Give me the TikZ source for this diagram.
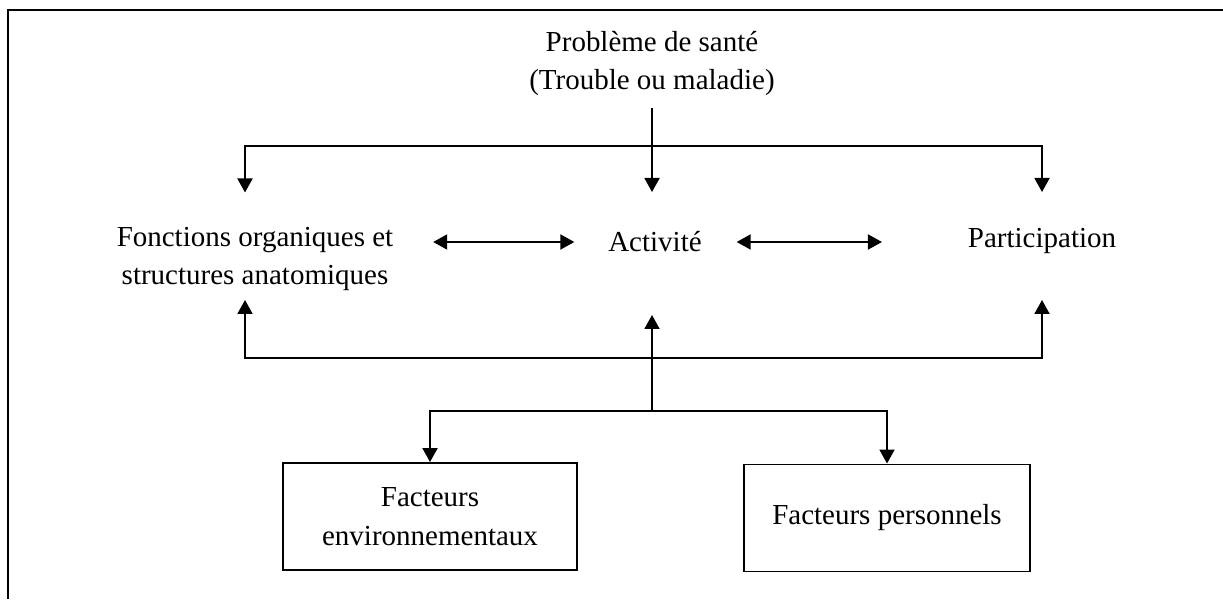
\documentclass[tikz,border=0pt]{standalone}
\usepackage{fontspec}
\setmainfont{Liberation Serif}
\usetikzlibrary{arrows.meta}
\begin{document}
\begin{tikzpicture}[>={Triangle[length=2.8mm,width=3mm]},line width=1.1pt,
  txt/.style={font=\fontsize{16.5}{22}\selectfont,align=center,inner sep=0pt},
  facteur/.style={txt,draw,minimum width=5.88cm,minimum height=2.14cm}]

\useasboundingbox (0,0) rectangle (24.46,11.98);
\draw (0.16,0)--(0.16,11.78)--(24.46,11.78);

\node[txt,inner ysep=2.2mm] (prob) at (13.04,10.71) {Problème de santé\\(Trouble ou maladie)};
\node[txt] (fonc) at ( 5.10,6.80) {Fonctions organiques et\\structures anatomiques};
\node[txt] (act)  at (13.10,7.14) {Activité};
\node[txt] (part) at (20.84,7.16) {Participation};
\node[facteur] (env) at ( 8.60,1.65) {Facteurs\\environnementaux};
\node[facteur,minimum width=5.72cm] (pers) at (17.74,1.62) {Facteurs personnels};

\coordinate (busT) at (13.04,9.06);
\coordinate (busB) at (13.04,4.82);
\coordinate (busF) at (13.04,3.76);
\coordinate (fT) at ( 4.90,8.13);
\coordinate (aT) at (13.04,8.14);
\coordinate (pT) at (20.84,8.14);
\coordinate (fB) at ( 4.90,5.98);
\coordinate (aB) at (13.04,5.68);
\coordinate (pB) at (20.84,5.98);

\draw[->] (prob.south)--(aT);
\draw[->] (busT)-|(fT);
\draw[->] (busT)-|(pT);

\draw[<->,shorten <=7.8mm,shorten >=6.6mm] (fonc.east|-act.west)--(act.west);
\draw[<->,shorten <=6.8mm,shorten >=17mm] (act.east)--(part.west|-act.east);

\draw[->] (busF)--(aB);
\draw[->] (busB)-|(fB);
\draw[->] (busB)-|(pB);
\draw[->] (busF)-|(env.north);
\draw[->] (busF)-|(pers.north);

\end{tikzpicture}
\end{document}
